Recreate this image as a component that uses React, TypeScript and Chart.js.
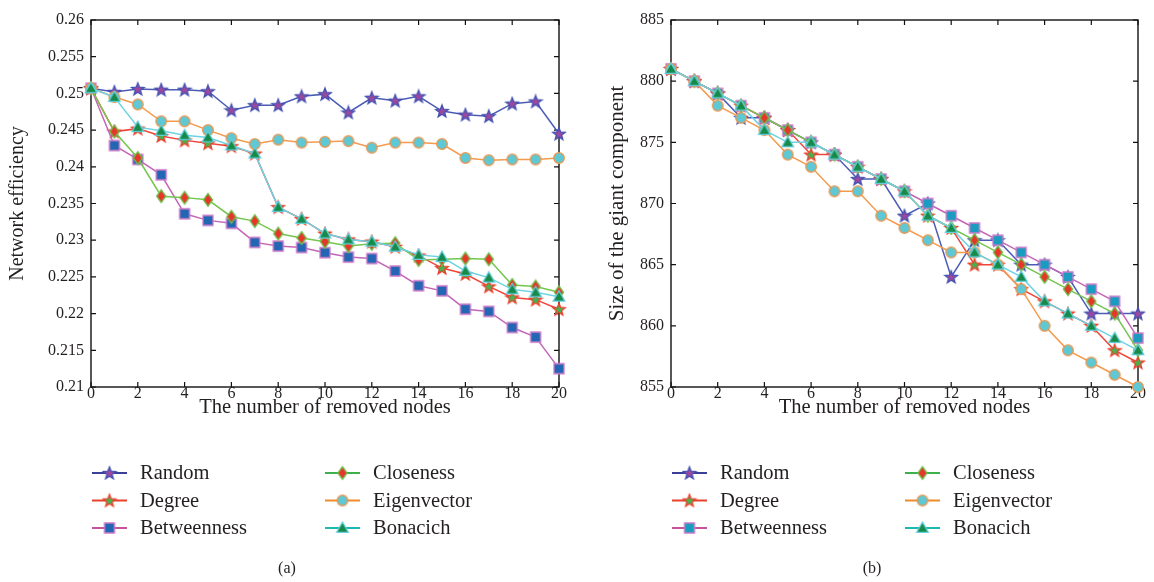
import React, { useEffect, useRef } from "react";
import { Chart, registerables } from "chart.js";
Chart.register(...registerables);

// ---------- data ----------
const xValues = [0, 1, 2, 3, 4, 5, 6, 7, 8, 9, 10, 11, 12, 13, 14, 15, 16, 17, 18, 19, 20];
const xTicks = [0, 2, 4, 6, 8, 10, 12, 14, 16, 18, 20];
const seriesNames = ["Random", "Degree", "Betweenness", "Closeness", "Eigenvector", "Bonacich"];

// (a) Network efficiency
const effTicks = [0.21, 0.215, 0.22, 0.225, 0.23, 0.235, 0.24, 0.245, 0.25, 0.255, 0.26];
const effRandom = [0.2507, 0.2502, 0.2506, 0.2505, 0.2505, 0.2503, 0.2477, 0.2484, 0.2484, 0.2496, 0.2499, 0.2474, 0.2494, 0.249, 0.2496, 0.2476, 0.2471, 0.2469, 0.2486, 0.2489, 0.2445];
const effDegree = [0.2507, 0.2448, 0.2452, 0.2442, 0.2436, 0.2432, 0.2428, 0.2418, 0.2345, 0.2329, 0.2309, 0.2301, 0.2298, 0.2291, 0.2279, 0.2262, 0.2254, 0.2237, 0.2222, 0.2219, 0.2206];
const effBetweenness = [0.2507, 0.2429, 0.241, 0.2389, 0.2336, 0.2327, 0.2323, 0.2297, 0.2292, 0.229, 0.2283, 0.2277, 0.2275, 0.2258, 0.2238, 0.2231, 0.2206, 0.2203, 0.2181, 0.2168, 0.2125];
const effCloseness = [0.2507, 0.2448, 0.2412, 0.236, 0.2358, 0.2355, 0.2332, 0.2326, 0.2309, 0.2303, 0.2298, 0.2292, 0.2295, 0.2296, 0.2273, 0.2274, 0.2275, 0.2274, 0.2239, 0.2237, 0.2229];
const effEigenvector = [0.2507, 0.2495, 0.2485, 0.2462, 0.2462, 0.245, 0.2439, 0.2431, 0.2437, 0.2433, 0.2434, 0.2435, 0.2426, 0.2433, 0.2433, 0.2431, 0.2412, 0.2409, 0.241, 0.241, 0.2412];
const effBonacich = [0.2507, 0.2495, 0.2454, 0.2449, 0.2443, 0.244, 0.2429, 0.2418, 0.2345, 0.2329, 0.2309, 0.2301, 0.2298, 0.2291, 0.228, 0.2277, 0.2258, 0.2249, 0.2233, 0.2229, 0.2223];

// (b) Size of the giant component
const gcTicks = [855, 860, 865, 870, 875, 880, 885];
const gcRandom = [881, 880, 879, 877, 877, 876, 875, 874, 872, 872, 869, 870, 864, 867, 867, 865, 865, 864, 861, 861, 861];
const gcDegree = [881, 880, 879, 878, 877, 876, 874, 874, 873, 872, 871, 869, 868, 865, 865, 863, 862, 861, 860, 858, 857];
const gcBetweenness = [881, 880, 879, 878, 877, 876, 875, 874, 873, 872, 871, 870, 869, 868, 867, 866, 865, 864, 863, 862, 859];
const gcCloseness = [881, 880, 879, 878, 877, 876, 875, 874, 873, 872, 871, 869, 868, 867, 866, 865, 864, 863, 862, 861, 858];
const gcEigenvector = [881, 880, 878, 877, 876, 874, 873, 871, 871, 869, 868, 867, 866, 866, 865, 863, 860, 858, 857, 856, 855];
const gcBonacich = [881, 880, 879, 878, 876, 875, 875, 874, 873, 872, 871, 869, 868, 866, 865, 864, 862, 861, 860, 859, 858];

// ---------- styles ----------
const FONT = '"Liberation Serif", "Times New Roman", serif';
const lineColors = ["#4a5cb5", "#f0443a", "#c466b8", "#74c64e", "#f39a4e", "#6ed2e2"];
const legendLineColors = ["#3a3f9a", "#e8412c", "#c5549f", "#3cb04a", "#f08a2a", "#1ab8b0"];
const markerShapes = ["star", "star", "square", "diamond", "circle", "triangle"];
const markerFills = ["#9a48a0", "#4caf50", "#2266b4", "#e8352a", "#5ec8d4", "#178a48"];
const markerEdges = ["#4050b0", "#f03c28", "#d07ac8", "#6cc04a", "#f0954a", "#66d0e0"];

function makeMarker(shape: string, fill: string, edge: string): HTMLCanvasElement {
  const c = document.createElement("canvas");
  c.width = 16;
  c.height = 16;
  const g = c.getContext("2d")!;
  const cx = 8, cy = 8;
  g.beginPath();
  if (shape === "star") {
    const R = 6.6, r = 2.8;
    for (let k = 0; k < 10; k++) {
      const rad = k % 2 === 0 ? R : r;
      const a = -Math.PI / 2 + (k * Math.PI) / 5;
      const px = cx + rad * Math.cos(a), py = cy + 0.5 + rad * Math.sin(a);
      if (k === 0) g.moveTo(px, py); else g.lineTo(px, py);
    }
    g.closePath();
  } else if (shape === "square") {
    g.rect(cx - 5, cy - 5, 10, 10);
  } else if (shape === "diamond") {
    g.moveTo(cx, cy - 6.3);
    g.lineTo(cx + 4.6, cy);
    g.lineTo(cx, cy + 6.3);
    g.lineTo(cx - 4.6, cy);
    g.closePath();
  } else if (shape === "circle") {
    g.arc(cx, cy, 5.3, 0, Math.PI * 2);
  } else {
    g.moveTo(cx, cy - 6);
    g.lineTo(cx + 5.8, cy + 4.3);
    g.lineTo(cx - 5.8, cy + 4.3);
    g.closePath();
  }
  g.fillStyle = fill;
  g.fill();
  g.lineWidth = 1.3;
  g.strokeStyle = edge;
  g.stroke();
  return c;
}

const framePlugin = {
  id: "frameTicks",
  beforeDatasetsDraw(chart: any) {
    const { ctx, chartArea } = chart;
    const { left, right, top, bottom } = chartArea;
    const xs = chart.scales.x;
    const ys = chart.scales.y;
    ctx.save();
    ctx.strokeStyle = "#111";
    ctx.lineWidth = 1.4;
    ctx.strokeRect(left, top, right - left, bottom - top);
    ctx.lineWidth = 1.2;
    const tl = 5;
    ctx.beginPath();
    xs.ticks.forEach((t: any) => {
      const px = xs.getPixelForValue(t.value);
      ctx.moveTo(px, bottom);
      ctx.lineTo(px, bottom - tl);
      ctx.moveTo(px, top);
      ctx.lineTo(px, top + tl);
    });
    ys.ticks.forEach((t: any) => {
      const py = ys.getPixelForValue(t.value);
      ctx.moveTo(left, py);
      ctx.lineTo(left + tl, py);
      ctx.moveTo(right, py);
      ctx.lineTo(right - tl, py);
    });
    ctx.stroke();
    ctx.restore();
  },
};

const legendPlugin = {
  id: "colLegend",
  afterDraw(chart: any) {
    const { ctx, chartArea } = chart;
    const rows = [473, 500.5, 528];
    chart.data.datasets.forEach((ds: any, i: number) => {
      const col = Math.floor(i / 3);
      const row = i % 3;
      const x0 = chartArea.left + 1 + col * 233;
      const y = rows[row];
      ctx.save();
      ctx.strokeStyle = legendLineColors[i];
      ctx.lineWidth = 2;
      ctx.beginPath();
      ctx.moveTo(x0, y);
      ctx.lineTo(x0 + 35, y);
      ctx.stroke();
      const img = ds.pointStyle as HTMLCanvasElement;
      ctx.drawImage(img, x0 + 17.5 - img.width / 2, y - img.height / 2);
      ctx.fillStyle = "#231f20";
      ctx.font = `20.5px ${FONT}`;
      ctx.textBaseline = "middle";
      ctx.textAlign = "left";
      ctx.fillText(ds.label, x0 + 48, y + 1);
      ctx.restore();
    });
  },
};

type PanelCfg = {
  series: number[][];
  yMin: number;
  yMax: number;
  yTicks: number[];
  yTitle: string;
  yTitleSize: number;
  yAxisWidth: number;
  padRight: number;
  yTitlePad: number;
  squareFill: string;
};

function ChartPanel({ left, cfg }: { left: number; cfg: PanelCfg }) {
  const ref = useRef<HTMLCanvasElement>(null);
  useEffect(() => {
    const canvas = ref.current!;
    const datasets = seriesNames.map((name, i) => ({
      label: name,
      data: xValues.map((x, k) => ({ x, y: cfg.series[i][k] })),
      borderColor: lineColors[i],
      backgroundColor: lineColors[i],
      borderWidth: 1.5,
      pointStyle: makeMarker(markerShapes[i], i === 2 ? cfg.squareFill : markerFills[i], markerEdges[i]),
      pointRadius: 5,
      pointHoverRadius: 5,
      tension: 0,
      clip: false,
      order: 5 - i,
    }));
    const xAxisH = 33;
    const chart = new Chart(canvas, {
      type: "line",
      data: { datasets } as any,
      options: {
        responsive: false,
        animation: false,
        devicePixelRatio: 1,
        events: [],
        layout: { padding: { left: 0, right: cfg.padRight, top: 20, bottom: 582 - 387 - xAxisH } },
        plugins: { legend: { display: false }, tooltip: { enabled: false } },
        scales: {
          x: {
            type: "linear",
            min: 0,
            max: 20,
            grid: { display: false, drawTicks: false },
            border: { display: false },
            afterBuildTicks: (s: any) => {
              s.ticks = xTicks.map((v) => ({ value: v }));
            },
            afterFit: (s: any) => {
              s.height = xAxisH;
            },
            ticks: {
              autoSkip: false,
              maxRotation: 0,
              padding: -3,
              color: "#231f20",
              font: { family: FONT, size: 16 },
              callback: (v: any) => String(v),
            },
            title: {
              display: true,
              text: "The number of removed nodes",
              color: "#231f20",
              font: { family: FONT, size: 20.5 },
              padding: { top: 0, bottom: 0 },
            },
          },
          y: {
            type: "linear",
            min: cfg.yMin,
            max: cfg.yMax,
            grid: { display: false, drawTicks: false },
            border: { display: false },
            afterBuildTicks: (s: any) => {
              s.ticks = cfg.yTicks.map((v) => ({ value: v }));
            },
            afterFit: (s: any) => {
              s.width = cfg.yAxisWidth;
            },
            ticks: {
              autoSkip: false,
              padding: 7,
              color: "#231f20",
              font: { family: FONT, size: 16 },
              callback: (v: any) => String(v),
            },
            title: {
              display: true,
              text: cfg.yTitle,
              color: "#231f20",
              font: { family: FONT, size: cfg.yTitleSize },
              padding: { top: cfg.yTitlePad, bottom: 0 },
            },
          },
        },
      },
      plugins: [framePlugin, legendPlugin],
    } as any);
    return () => chart.destroy();
  }, [cfg]);
  return (
    <canvas
      ref={ref}
      width={577}
      height={582}
      style={{ position: "absolute", left, top: 0, width: 577, height: 582 }}
    />
  );
}

const effCfg: PanelCfg = {
  series: [effRandom, effDegree, effBetweenness, effCloseness, effEigenvector, effBonacich],
  yMin: 0.21,
  yMax: 0.26,
  yTicks: effTicks,
  yTitle: "Network efficiency",
  yTitleSize: 20,
  yAxisWidth: 91,
  padRight: 18,
  yTitlePad: 6,
  squareFill: "#2266b4",
};

const gcCfg: PanelCfg = {
  series: [gcRandom, gcDegree, gcBetweenness, gcCloseness, gcEigenvector, gcBonacich],
  yMin: 855,
  yMax: 885,
  yTicks: gcTicks,
  yTitle: "Size of the giant component",
  yTitleSize: 21,
  yAxisWidth: 94,
  padRight: 16,
  yTitlePad: 28,
  squareFill: "#1a9cc0",
};

export default function App() {
  return (
    <div
      style={{
        position: "absolute",
        left: 0,
        top: 0,
        width: 1154,
        height: 582,
        background: "#ffffff",
        fontFamily: FONT,
        overflow: "hidden",
      }}
    >
      <ChartPanel left={0} cfg={effCfg} />
      <ChartPanel left={577} cfg={gcCfg} />
      <div style={{ position: "absolute", left: 287, top: 568, transform: "translate(-50%, -50%)", fontSize: 16, color: "#231f20" }}>(a)</div>
      <div style={{ position: "absolute", left: 872, top: 568, transform: "translate(-50%, -50%)", fontSize: 16, color: "#231f20" }}>(b)</div>
    </div>
  );
}
